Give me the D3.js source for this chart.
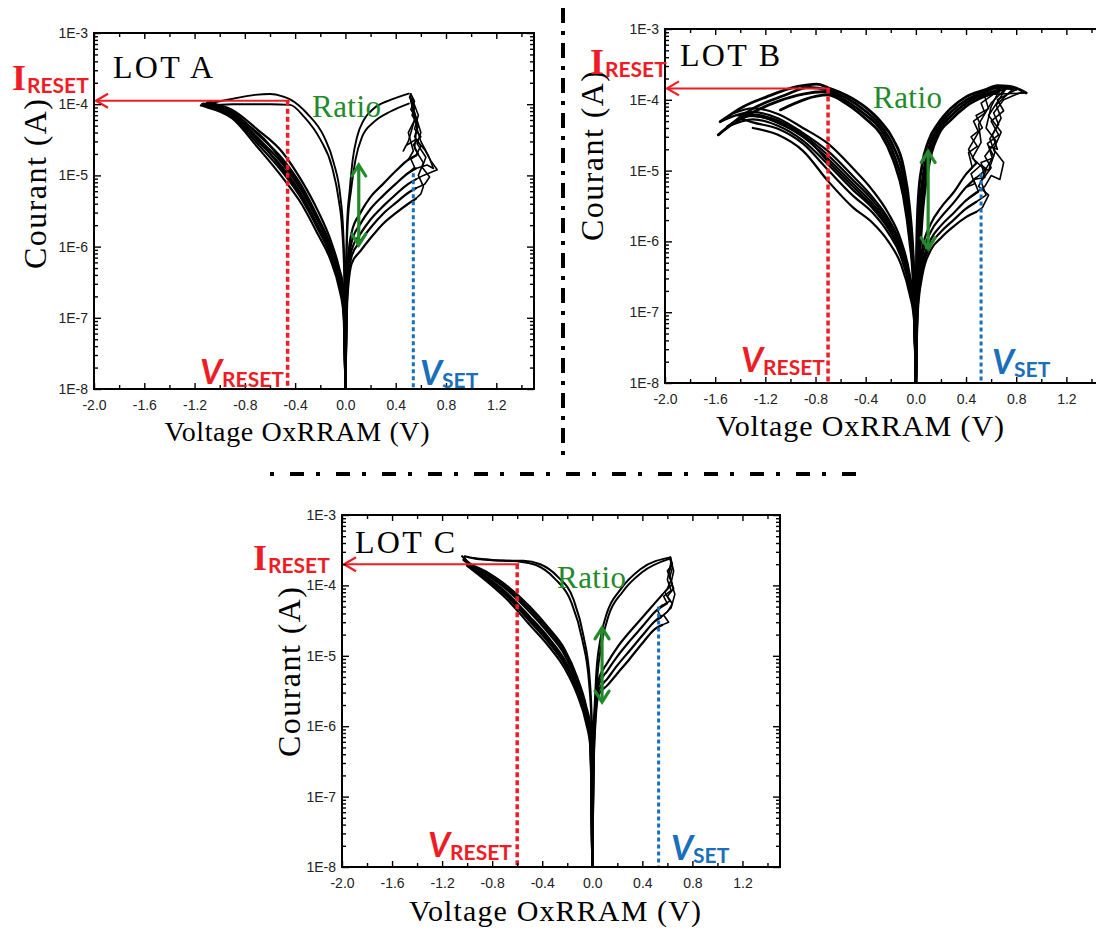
<!DOCTYPE html>
<html><head><meta charset="utf-8">
<script src="https://cdn.jsdelivr.net/npm/d3@7"></script>
<style>html,body{margin:0;padding:0;background:#fff;}svg{display:block;}</style>
</head><body>
<svg id="chart" width="1096" height="930"></svg>
<script>
// ================= DATA =================
const xTicks = [-2.0,-1.6,-1.2,-0.8,-0.4,0,0.4,0.8,1.2];
const xTickLabels = ["-2.0","-1.6","-1.2","-0.8","-0.4","0.0","0.4","0.8","1.2"];
const xMinorTicks = [-1.8,-1.4,-1.0,-0.6,-0.2,0.2,0.6,1.0,1.4];
const yTicks = [1e-8,1e-7,1e-6,1e-5,1e-4,1e-3];
const yTickLabels = ["1E-8","1E-7","1E-6","1E-5","1E-4","1E-3"];
const lotNames = ["LOT A","LOT B","LOT C"];
const xTitle = "Voltage OxRRAM (V)";
const yTitle = "Courant (A)";

// annotation values per lot (A, B, C)
const iReset   = [1.12e-4, 1.45e-4, 2.0e-4];
const vReset   = [-0.46, -0.70, -0.60];
const vSet     = [0.54, 0.52, 0.53];
const vSetTop  = [1.07e-5, 9.1e-6, 5.0e-5];
const ratioV   = [0.106, 0.098, 0.078];
const ratioHi  = [1.4e-5, 1.86e-5, 2.5e-5];
const ratioLo  = [1.05e-6, 7.9e-7, 2.2e-6];

// ---------- LOT A : [V, I] ----------
const lotA_lrs = [
 [[-1.13,1.0e-4],[-1.0,1.1e-4],[-0.89,1.2e-4],[-0.72,1.35e-4],[-0.60,1.39e-4],[-0.50,1.29e-4],[-0.44,1.17e-4],[-0.305,7.4e-5],[-0.17,3.5e-5],[-0.093,1.5e-5],[-0.04,5.0e-6],[-0.018,1.7e-6],[-0.008,5.2e-7],[-0.002,1e-7],[0,1e-8],[0.002,1.3e-7],[0.006,5.9e-7],[0.013,2.1e-6],[0.034,6.2e-6],[0.058,1.66e-5],[0.093,3.5e-5],[0.146,6.0e-5],[0.225,8.7e-5],[0.358,1.15e-4],[0.504,1.41e-4]],
 [[-1.12,9.5e-5],[-0.9,1.0e-4],[-0.6,1.0e-4],[-0.44,9.8e-5],[-0.33,6.7e-5],[-0.2,3.2e-5],[-0.106,1.3e-5],[-0.053,4.5e-6],[-0.026,1.7e-6],[-0.01,4e-7],[-0.002,6e-8],[0,1e-8],[0.002,5e-8],[0.005,2.5e-7],[0.018,2.1e-6],[0.045,6.2e-6],[0.08,1.66e-5],[0.133,3.5e-5],[0.225,5.6e-5],[0.358,7.9e-5],[0.504,1.02e-4]]
];
const lotA_hrsNeg = [
 [[-1.10,1.05e-4],[-0.9,8.3e-5],[-0.7,4.4e-5],[-0.5,2.1e-5],[-0.35,8.5e-6],[-0.22,3.2e-6],[-0.12,1.26e-6],[-0.05,5.0e-7],[-0.015,2.5e-7],[0,1e-8]],
 [[-1.14,1.0e-4],[-0.9,7.8e-5],[-0.7,3.8e-5],[-0.5,1.7e-5],[-0.35,7.2e-6],[-0.22,2.6e-6],[-0.12,1.07e-6],[-0.05,4.3e-7],[-0.015,2.0e-7],[0,1e-8]],
 [[-1.12,9.3e-5],[-0.9,7.3e-5],[-0.7,3.4e-5],[-0.5,1.45e-5],[-0.35,6.1e-6],[-0.22,2.3e-6],[-0.12,9.4e-7],[-0.05,3.75e-7],[-0.015,1.75e-7],[0,1e-8]],
 [[-1.08,1.1e-4],[-0.9,7.0e-5],[-0.7,3.1e-5],[-0.5,1.29e-5],[-0.35,5.4e-6],[-0.22,2.0e-6],[-0.12,8.6e-7],[-0.05,3.4e-7],[-0.015,1.55e-7],[0,1e-8]],
 [[-1.15,9.6e-5],[-0.9,6.7e-5],[-0.7,2.8e-5],[-0.5,1.11e-5],[-0.35,4.7e-6],[-0.22,1.78e-6],[-0.12,7.6e-7],[-0.05,3.0e-7],[-0.015,1.34e-7],[0,1e-8]],
 [[-1.10,9.0e-5],[-0.9,6.3e-5],[-0.7,2.5e-5],[-0.5,9.3e-6],[-0.35,4.0e-6],[-0.22,1.5e-6],[-0.12,6.6e-7],[-0.05,2.6e-7],[-0.015,1.12e-7],[0,1e-8]],
 [[-1.13,1.02e-4],[-0.95,8.5e-5],[-0.8,5.5e-5],[-0.65,3.3e-5],[-0.5,1.55e-5],[-0.35,6.6e-6],[-0.22,2.45e-6],[-0.12,1.0e-6],[-0.05,4.0e-7],[-0.015,1.9e-7],[0,1e-8]],
 [[-1.09,9.8e-5],[-0.95,8.0e-5],[-0.8,4.8e-5],[-0.65,2.6e-5],[-0.5,1.2e-5],[-0.35,5.0e-6],[-0.22,1.9e-6],[-0.12,8.0e-7],[-0.05,3.2e-7],[-0.015,1.45e-7],[0,1e-8]]
];
const lotA_hrsPos = [
 [[0,1e-8],[0.015,5.0e-7],[0.05,1.6e-6],[0.12,3.0e-6],[0.2,5.0e-6],[0.3,7.6e-6],[0.4,1.15e-5],[0.5,1.66e-5],[0.56,1.9e-5]],
 [[0,1e-8],[0.015,3.7e-7],[0.05,1.17e-6],[0.12,2.1e-6],[0.2,3.4e-6],[0.3,5.2e-6],[0.4,7.6e-6],[0.5,1.08e-5],[0.56,1.25e-5]],
 [[0,1e-8],[0.015,2.8e-7],[0.05,9.1e-7],[0.12,1.52e-6],[0.2,2.4e-6],[0.3,3.7e-6],[0.4,5.4e-6],[0.5,7.6e-6],[0.56,8.8e-6]],
 [[0,1e-8],[0.015,2.3e-7],[0.05,7.4e-7],[0.12,1.19e-6],[0.2,1.84e-6],[0.3,2.9e-6],[0.4,4.1e-6],[0.5,5.7e-6],[0.56,6.6e-6]],
 [[0,1e-8],[0.015,1.8e-7],[0.05,5.8e-7],[0.12,8.7e-7],[0.2,1.32e-6],[0.3,2.1e-6],[0.4,2.95e-6],[0.5,4.0e-6],[0.56,4.7e-6]]
];
const lotA_set = [
 [[0.56,1.9e-5],[0.60,2.6e-5],[0.55,3.5e-5],[0.58,5e-5],[0.53,7e-5],[0.55,9e-5],[0.51,1.25e-4],[0.52,1.4e-4]],
 [[0.56,1.25e-5],[0.65,1.4e-5],[0.70,1.25e-5],[0.66,1.9e-5],[0.60,3.0e-5],[0.57,4.5e-5],[0.54,8e-5],[0.52,1.3e-4]],
 [[0.56,8.8e-6],[0.62,1.0e-5],[0.73,1.2e-5],[0.68,1.6e-5],[0.63,2.3e-5],[0.56,3.2e-5],[0.48,2.6e-5],[0.46,2.2e-5],[0.50,3.0e-5],[0.55,6e-5],[0.52,1.2e-4]],
 [[0.56,6.6e-6],[0.63,7.5e-6],[0.67,9.5e-6],[0.61,1.3e-5],[0.64,1.8e-5],[0.57,2.8e-5],[0.60,4e-5],[0.53,1.0e-4]],
 [[0.56,4.7e-6],[0.60,5.5e-6],[0.62,7e-6],[0.58,1e-5],[0.62,1.5e-5],[0.55,2.4e-5],[0.57,5.5e-5],[0.52,1.1e-4]],
 [[0.50,1.66e-5],[0.54,2.2e-5],[0.50,4e-5],[0.56,6.5e-5],[0.52,8.5e-5],[0.55,1.1e-4],[0.52,1.4e-4]],
 [[0.50,1.08e-5],[0.55,1.3e-5],[0.52,1.7e-5],[0.58,2.0e-5],[0.54,2.7e-5],[0.60,3.5e-5],[0.55,4.5e-5],[0.58,7e-5],[0.53,1.2e-4]]
];

// ---------- LOT B ----------
const lotB_lrs = [
 [[-1.56,4.9e-5],[-1.376,8.0e-5],[-1.19,1.1e-4],[-0.95,1.53e-4],[-0.79,1.67e-4],[-0.7,1.48e-4],[-0.55,1.15e-4],[-0.4,7.8e-5],[-0.28,4.9e-5],[-0.18,2.75e-5],[-0.1,1.15e-5],[-0.05,3.0e-6],[-0.02,5.5e-7],[-0.006,1e-7],[0,1e-8],[0.006,7.9e-7],[0.02,4.2e-6],[0.05,1.2e-5],[0.1,2.6e-5],[0.18,4.7e-5],[0.28,7.6e-5],[0.4,1.1e-4],[0.55,1.38e-4],[0.65,1.58e-4],[0.75,1.55e-4],[0.88,1.25e-4]],
 [[-1.575,3.2e-5],[-1.3,7.5e-5],[-1.05,1.15e-4],[-0.85,1.5e-4],[-0.7,1.37e-4],[-0.55,1.05e-4],[-0.4,6.9e-5],[-0.28,4.3e-5],[-0.18,2.2e-5],[-0.1,8.3e-6],[-0.05,2.1e-6],[-0.02,4.2e-7],[-0.006,8.0e-8],[0,1e-8],[0.006,3.4e-7],[0.02,1.65e-6],[0.05,6.7e-6],[0.1,1.97e-5],[0.18,4.1e-5],[0.28,6.7e-5],[0.4,9.9e-5],[0.55,1.29e-4],[0.65,1.47e-4],[0.8,1.4e-4]],
 [[-1.5,4.2e-5],[-1.35,6.0e-5],[-1.1,9.5e-5],[-0.9,1.2e-4],[-0.75,1.3e-4],[-0.7,1.27e-4],[-0.55,9.5e-5],[-0.4,6.1e-5],[-0.28,3.8e-5],[-0.18,1.76e-5],[-0.1,6.0e-6],[-0.05,1.49e-6],[-0.02,3.25e-7],[-0.006,6.3e-8],[0,1e-8],[0.006,1.46e-7],[0.02,6.4e-7],[0.05,3.7e-6],[0.1,1.46e-5],[0.18,3.6e-5],[0.28,5.9e-5],[0.4,9.0e-5],[0.55,1.2e-4],[0.65,1.36e-4],[0.72,1.45e-4]],
 [[-1.08,7.2e-5],[-0.7,1.17e-4],[-0.55,8.7e-5],[-0.4,5.4e-5],[-0.28,3.3e-5],[-0.18,1.41e-5],[-0.1,4.4e-6],[-0.05,1.05e-6],[-0.02,2.5e-7],[-0.006,5.0e-8],[0,1e-8],[0.006,6.3e-8],[0.02,2.5e-7],[0.05,2.1e-6],[0.1,1.1e-5],[0.18,3.2e-5],[0.28,5.2e-5],[0.4,8.1e-5],[0.55,1.12e-4],[0.66,1.3e-4]]
];
const lotB_hrsNeg = [
 [[-1.45,6.5e-5],[-1.3,7.6e-5],[-1.1,6.3e-5],[-0.9,4.0e-5],[-0.7,2.4e-5],[-0.5,1.07e-5],[-0.35,5.4e-6],[-0.22,2.5e-6],[-0.12,1.05e-6],[-0.05,3.5e-7],[-0.015,1.26e-7],[0,1e-8]],
 [[-1.56,4.9e-5],[-1.3,6.7e-5],[-1.1,5.5e-5],[-0.9,3.4e-5],[-0.7,1.88e-5],[-0.5,8.3e-6],[-0.35,4.3e-6],[-0.22,2.1e-6],[-0.12,9.0e-7],[-0.05,3.1e-7],[-0.015,1.15e-7],[0,1e-8]],
 [[-1.575,3.2e-5],[-1.3,5.9e-5],[-1.1,4.8e-5],[-0.9,3.0e-5],[-0.7,1.47e-5],[-0.5,6.5e-6],[-0.35,3.5e-6],[-0.22,1.74e-6],[-0.12,7.7e-7],[-0.05,2.7e-7],[-0.015,1.05e-7],[0,1e-8]],
 [[-1.5,4.2e-5],[-1.3,5.3e-5],[-1.1,4.3e-5],[-0.9,2.65e-5],[-0.7,1.22e-5],[-0.5,5.3e-6],[-0.35,3.0e-6],[-0.22,1.51e-6],[-0.12,6.8e-7],[-0.05,2.4e-7],[-0.015,9.8e-8],[0,1e-8]],
 [[-1.4,5.5e-5],[-1.3,4.8e-5],[-1.1,3.9e-5],[-0.9,2.4e-5],[-0.7,1.02e-5],[-0.5,4.4e-6],[-0.35,2.6e-6],[-0.22,1.32e-6],[-0.12,6.1e-7],[-0.05,2.2e-7],[-0.015,9.1e-8],[0,1e-8]],
 [[-1.3,4.0e-5],[-1.1,3.2e-5],[-0.9,1.9e-5],[-0.7,7.1e-6],[-0.5,3.0e-6],[-0.35,1.86e-6],[-0.22,1.0e-6],[-0.12,4.8e-7],[-0.05,1.8e-7],[-0.015,7.9e-8],[0,1e-8]],
 [[-1.52,3.8e-5],[-1.3,6.2e-5],[-1.1,5.1e-5],[-0.9,3.2e-5],[-0.7,1.65e-5],[-0.5,7.3e-6],[-0.35,3.9e-6],[-0.22,1.9e-6],[-0.12,8.3e-7],[-0.05,2.9e-7],[-0.015,1.1e-7],[0,1e-8]],
 [[-1.42,6.0e-5],[-1.25,5.8e-5],[-1.05,4.3e-5],[-0.85,2.6e-5],[-0.7,1.35e-5],[-0.5,5.9e-6],[-0.35,3.2e-6],[-0.22,1.6e-6],[-0.12,7.2e-7],[-0.05,2.5e-7],[-0.015,1.0e-7],[0,1e-8]]
];
const lotB_hrsPos = [
 [[0,1e-8],[0.015,2.5e-7],[0.05,7.6e-7],[0.12,1.78e-6],[0.2,3.0e-6],[0.3,4.9e-6],[0.4,8.9e-6],[0.48,1.26e-5]],
 [[0,1e-8],[0.015,1.9e-7],[0.05,5.8e-7],[0.12,1.38e-6],[0.2,2.2e-6],[0.3,3.5e-6],[0.4,5.8e-6],[0.48,7.9e-6]],
 [[0,1e-8],[0.015,1.45e-7],[0.05,4.5e-7],[0.12,1.07e-6],[0.2,1.67e-6],[0.3,2.5e-6],[0.4,3.8e-6],[0.48,4.9e-6]],
 [[0,1e-8],[0.015,1.2e-7],[0.05,3.8e-7],[0.12,9.0e-7],[0.2,1.37e-6],[0.3,2.0e-6],[0.4,2.9e-6],[0.48,3.6e-6]],
 [[0,1e-8],[0.015,1.0e-7],[0.05,3.2e-7],[0.12,7.6e-7],[0.2,1.12e-6],[0.3,1.62e-6],[0.4,2.2e-6],[0.48,2.6e-6]]
];
const lotB_set = [
 [[0.48,1.26e-5],[0.42,2.0e-5],[0.50,3.5e-5],[0.46,5.0e-5],[0.55,6.5e-5],[0.52,9e-5],[0.62,1.2e-4],[0.88,1.25e-4]],
 [[0.48,7.9e-6],[0.55,1.0e-5],[0.62,1.6e-5],[0.57,2.4e-5],[0.66,3.2e-5],[0.60,5e-5],[0.70,7e-5],[0.65,1.0e-4],[0.80,1.4e-4]],
 [[0.48,4.9e-6],[0.55,6e-6],[0.60,8.5e-6],[0.67,7.5e-6],[0.70,1.3e-5],[0.62,2.0e-5],[0.68,3.5e-5],[0.58,6.0e-5],[0.72,1.45e-4]],
 [[0.48,3.6e-6],[0.56,4.5e-6],[0.52,7e-6],[0.60,1.1e-5],[0.55,1.6e-5],[0.64,2.6e-5],[0.56,4.0e-5],[0.60,8e-5],[0.66,1.3e-4]],
 [[0.48,2.6e-6],[0.53,3.0e-6],[0.58,4.5e-6],[0.50,6e-6],[0.56,1.0e-5],[0.45,1.5e-5],[0.52,2.5e-5],[0.50,4.5e-5],[0.60,9e-5],[0.70,1.35e-4]],
 [[0.40,8.9e-6],[0.45,1.1e-5],[0.42,1.8e-5],[0.49,2.2e-5],[0.44,3.0e-5],[0.53,4.0e-5],[0.48,6.0e-5],[0.58,7.5e-5],[0.55,1.1e-4],[0.75,1.5e-4]],
 [[0.40,5.8e-6],[0.47,6.5e-6],[0.44,9e-6],[0.52,1.2e-5],[0.58,1.0e-5],[0.63,1.8e-5],[0.59,2.8e-5],[0.66,4.5e-5],[0.62,6.5e-5],[0.70,1.0e-4],[0.85,1.3e-4]],
 [[0.40,3.8e-6],[0.50,5.0e-6],[0.46,7.5e-6],[0.55,8.0e-6],[0.52,1.3e-5],[0.61,1.5e-5],[0.58,2.2e-5],[0.65,2.0e-5],[0.61,3.2e-5],[0.68,5.5e-5],[0.64,8.5e-5],[0.78,1.45e-4]]
];

// ---------- LOT C ----------
const lotC_lrs = [
 [[-1.02,2.6e-4],[-0.9,2.35e-4],[-0.7,2.24e-4],[-0.55,2.24e-4],[-0.416,2.0e-4],[-0.28,1.35e-4],[-0.15,6.3e-5],[-0.07,1.9e-5],[-0.02,4.6e-6],[-0.003,9.8e-7],[0,1e-8],[0.003,5.0e-7],[0.016,1.51e-6],[0.032,5.6e-6],[0.064,1.7e-5],[0.118,4.1e-5],[0.224,8.7e-5],[0.384,1.7e-4],[0.624,2.5e-4]],
 [[-0.95,2.45e-4],[-0.8,2.3e-4],[-0.6,2.2e-4],[-0.45,1.95e-4],[-0.3,1.25e-4],[-0.17,5.9e-5],[-0.08,1.7e-5],[-0.025,4.0e-6],[-0.004,8e-7],[0,1e-8],[0.004,4e-7],[0.02,1.3e-6],[0.04,5e-6],[0.075,1.5e-5],[0.13,3.7e-5],[0.24,8e-5],[0.4,1.55e-4],[0.62,2.4e-4]]
];
const lotC_hrsNeg = [
 [[-1.04,2.6e-4],[-1.0,2.2e-4],[-0.85,1.58e-4],[-0.68,9.8e-5],[-0.5,5.0e-5],[-0.35,2.5e-5],[-0.22,1.23e-5],[-0.12,4.9e-6],[-0.05,1.95e-6],[-0.015,9.5e-7],[0,1e-8]],
 [[-1.03,2.3e-4],[-1.0,2.1e-4],[-0.85,1.45e-4],[-0.68,8.6e-5],[-0.5,4.2e-5],[-0.35,2.1e-5],[-0.22,1.02e-5],[-0.12,4.1e-6],[-0.05,1.65e-6],[-0.015,7.9e-7],[0,1e-8]],
 [[-1.0,2.0e-4],[-0.85,1.34e-4],[-0.68,7.7e-5],[-0.5,3.6e-5],[-0.35,1.81e-5],[-0.22,8.7e-6],[-0.12,3.6e-6],[-0.05,1.44e-6],[-0.015,6.7e-7],[0,1e-8]],
 [[-1.0,1.96e-4],[-0.85,1.25e-4],[-0.68,6.9e-5],[-0.5,3.1e-5],[-0.35,1.56e-5],[-0.22,7.5e-6],[-0.12,3.15e-6],[-0.05,1.25e-6],[-0.015,5.7e-7],[0,1e-8]],
 [[-1.0,1.9e-4],[-0.85,1.17e-4],[-0.68,6.3e-5],[-0.5,2.75e-5],[-0.35,1.38e-5],[-0.22,6.6e-6],[-0.12,2.8e-6],[-0.05,1.12e-6],[-0.015,5.0e-7],[0,1e-8]],
 [[-1.02,2.45e-4],[-1.0,2.15e-4],[-0.85,1.5e-4],[-0.68,9.1e-5],[-0.5,4.6e-5],[-0.35,2.3e-5],[-0.22,1.12e-5],[-0.12,4.5e-6],[-0.05,1.8e-6],[-0.015,8.6e-7],[0,1e-8]],
 [[-0.99,2.1e-4],[-0.85,1.3e-4],[-0.68,7.3e-5],[-0.5,3.35e-5],[-0.35,1.68e-5],[-0.22,8.1e-6],[-0.12,3.4e-6],[-0.05,1.35e-6],[-0.015,6.2e-7],[0,1e-8]]
];
const lotC_hrsPos = [
 [[0,1e-8],[0.015,1.12e-6],[0.05,4.5e-6],[0.12,7.9e-6],[0.2,1.32e-5],[0.3,2.2e-5],[0.4,3.5e-5],[0.5,5.6e-5],[0.56,7.4e-5]],
 [[0,1e-8],[0.015,8.5e-7],[0.05,3.8e-6],[0.12,6.1e-6],[0.2,9.8e-6],[0.3,1.63e-5],[0.4,2.6e-5],[0.5,4.2e-5],[0.56,5.2e-5]],
 [[0,1e-8],[0.015,6.3e-7],[0.05,3.2e-6],[0.12,4.7e-6],[0.2,7.3e-6],[0.3,1.19e-5],[0.4,1.94e-5],[0.5,3.1e-5],[0.56,3.7e-5]],
 [[0,1e-8],[0.015,5.0e-7],[0.05,2.8e-6],[0.12,3.8e-6],[0.2,5.6e-6],[0.3,9.1e-6],[0.4,1.51e-5],[0.5,2.4e-5],[0.56,2.75e-5]]
];
const lotC_set = [
 [[0.56,7.4e-5],[0.60,9e-5],[0.63,1.2e-4],[0.60,1.6e-4],[0.64,2.0e-4],[0.624,2.5e-4]],
 [[0.56,5.2e-5],[0.62,6e-5],[0.58,8e-5],[0.64,1.05e-4],[0.61,1.4e-4],[0.63,1.9e-4],[0.624,2.5e-4]],
 [[0.56,3.7e-5],[0.60,4.2e-5],[0.64,5.5e-5],[0.60,7e-5],[0.65,9e-5],[0.62,1.3e-4],[0.64,1.8e-4],[0.62,2.4e-4]],
 [[0.56,2.75e-5],[0.61,3.0e-5],[0.57,3.8e-5],[0.63,4.8e-5],[0.66,7.5e-5],[0.63,1.1e-4],[0.65,1.6e-4],[0.624,2.5e-4]],
 [[0.50,3.1e-5],[0.55,3.5e-5],[0.52,4.5e-5],[0.60,5.5e-5],[0.57,7e-5],[0.63,8.5e-5],[0.60,1.2e-4],[0.63,2.2e-4]]
];

// ================= LAYOUT (positions / styles only) =================
const layouts = [
 {x0:94,  y0:33,  w:440, h:356, lot:[113,78],  iR:[12,90],   vR:[200,384], vS:[420,385], ratio:[312,117], yLab:[46,184],  xLab:[297,441], xLen:265, xFs:28, lrsW:1.9},
 {x0:665, y0:29,  w:439, h:354, lot:[680,66],  iR:[590,74],  vR:[741,372], vS:[992,374], ratio:[873,108], yLab:[603,156], xLab:[860,436], xLen:288, xFs:30, lrsW:2.8},
 {x0:342, y0:515, w:438, h:352, lot:[355,553], iR:[253,570], vR:[428,857], vS:[671,860], ratio:[557,588], yLab:[300,672], xLab:[555,921], xLen:292, xFs:30, lrsW:2.0}
];
const curveSets = [
 {lrs:lotA_lrs, neg:lotA_hrsNeg, pos:lotA_hrsPos, set:lotA_set},
 {lrs:lotB_lrs, neg:lotB_hrsNeg, pos:lotB_hrsPos, set:lotB_set},
 {lrs:lotC_lrs, neg:lotC_hrsNeg, pos:lotC_hrsPos, set:lotC_set}
];
const RED="#ee1c25", BLUE="#1a6fba", GREEN="#238a2b";

const svg = d3.select("#chart");
const defs = svg.append("defs");

layouts.forEach((L,i) => {
  const C = curveSets[i];
  const x = d3.scaleLinear().domain([-2.0,1.5]).range([L.x0, L.x0+L.w]);
  const y = d3.scaleLog().domain([1e-8,1e-3]).range([L.y0+L.h, L.y0]);
  const cid = "clip"+i;
  defs.append("clipPath").attr("id",cid).append("rect")
    .attr("x",L.x0).attr("y",L.y0).attr("width",L.w).attr("height",L.h);
  const g = svg.append("g");

  const smooth = d3.line().x(d=>x(d[0])).y(d=>y(d[1])).curve(d3.curveMonotoneX);
  const jag = d3.line().x(d=>x(d[0])).y(d=>y(d[1]));
  const cg = g.append("g").attr("clip-path",`url(#${cid})`)
    .attr("fill","none").attr("stroke","#000").attr("stroke-width",2.2)
    .attr("stroke-linejoin","round").attr("stroke-linecap","round");
  C.neg.forEach(c => cg.append("path").attr("d", smooth(c)));
  C.pos.forEach(c => cg.append("path").attr("d", smooth(c)));
  C.lrs.forEach(c => cg.append("path").attr("d", smooth(c)).attr("stroke-width",L.lrsW));
  C.set.forEach(c => cg.append("path").attr("d", jag(c)).attr("stroke-width",1.6));

  // V_RESET / V_SET dotted lines
  g.append("line").attr("x1",x(vReset[i])).attr("x2",x(vReset[i]))
    .attr("y1",y(iReset[i])).attr("y2",L.y0+L.h-1)
    .attr("stroke",RED).attr("stroke-width",3.5).attr("stroke-dasharray","5,3");
  g.append("line").attr("x1",x(vSet[i])).attr("x2",x(vSet[i]))
    .attr("y1",y(vSetTop[i])).attr("y2",L.y0+L.h-1)
    .attr("stroke",BLUE).attr("stroke-width",3).attr("stroke-dasharray","4,3");

  // I_RESET arrow
  const ay = y(iReset[i]), ax0 = L.x0+2, ax1 = x(vReset[i])+2;
  g.append("line").attr("x1",ax0).attr("x2",ax1).attr("y1",ay).attr("y2",ay)
    .attr("stroke",RED).attr("stroke-width",2);
  g.append("path").attr("d",`M${ax0+12},${ay-7}L${ax0},${ay}L${ax0+12},${ay+7}`)
    .attr("fill","none").attr("stroke",RED).attr("stroke-width",2.2);

  // Ratio arrow
  const rx = x(ratioV[i]), rt = y(ratioHi[i]), rb = y(ratioLo[i]);
  g.append("line").attr("x1",rx).attr("x2",rx).attr("y1",rt+1).attr("y2",rb-1)
    .attr("stroke",GREEN).attr("stroke-width",3.2);
  g.append("path").attr("d",`M${rx-7},${rt+11}L${rx},${rt}L${rx+7},${rt+11}M${rx-7},${rb-11}L${rx},${rb}L${rx+7},${rb-11}`)
    .attr("fill","none").attr("stroke",GREEN).attr("stroke-width",3.2).attr("stroke-linecap","round");

  // Axes
  const yMinor = [];
  yTicks.slice(0,5).forEach(d => { for (let k=2;k<=9;k++) yMinor.push(d*k); });
  const styleAx = sel => { sel.select(".domain").remove(); sel.selectAll("line").attr("stroke","#000").attr("stroke-width",1.4); };
  g.append("g").attr("transform",`translate(0,${L.y0+L.h})`)
    .call(d3.axisBottom(x).tickValues(xTicks).tickFormat((d,j)=>xTickLabels[j]).tickSize(-6).tickPadding(11))
    .call(styleAx);
  g.append("g").attr("transform",`translate(0,${L.y0+L.h})`)
    .call(d3.axisBottom(x).tickValues(xMinorTicks).tickFormat("").tickSize(-4)).call(styleAx);
  g.append("g").attr("transform",`translate(0,${L.y0})`)
    .call(d3.axisTop(x).tickValues(xTicks).tickFormat("").tickSize(-6)).call(styleAx);
  g.append("g").attr("transform",`translate(0,${L.y0})`)
    .call(d3.axisTop(x).tickValues(xMinorTicks).tickFormat("").tickSize(-4)).call(styleAx);
  g.append("g").attr("transform",`translate(${L.x0},0)`)
    .call(d3.axisLeft(y).tickValues(yTicks).tickFormat((d,j)=>yTickLabels[j]).tickSize(-7).tickPadding(6))
    .call(styleAx);
  g.append("g").attr("transform",`translate(${L.x0},0)`)
    .call(d3.axisLeft(y).tickValues(yMinor).tickFormat("").tickSize(-4)).call(styleAx);
  g.append("g").attr("transform",`translate(${L.x0+L.w},0)`)
    .call(d3.axisRight(y).tickValues(yTicks).tickFormat("").tickSize(-7)).call(styleAx);
  g.append("g").attr("transform",`translate(${L.x0+L.w},0)`)
    .call(d3.axisRight(y).tickValues(yMinor).tickFormat("").tickSize(-4)).call(styleAx);
  g.selectAll(".tick text").attr("font-family","Liberation Sans, Arial, sans-serif")
    .attr("font-size",14).attr("fill","#222");
  g.append("rect").attr("x",L.x0).attr("y",L.y0).attr("width",L.w).attr("height",L.h)
    .attr("fill","none").attr("stroke","#000").attr("stroke-width",2);

  // Titles
  g.append("text").attr("x",L.xLab[0]).attr("y",L.xLab[1]).attr("text-anchor","middle")
    .attr("font-family","Liberation Serif, serif").attr("font-size",L.xFs)
    .attr("textLength",L.xLen).attr("lengthAdjust","spacing").text(xTitle);
  g.append("text").attr("transform",`translate(${L.yLab[0]},${L.yLab[1]}) rotate(-90)`)
    .attr("text-anchor","middle").attr("font-family","Liberation Serif, serif").attr("font-size",32)
    .attr("textLength",170).attr("lengthAdjust","spacing").text(yTitle);
  g.append("text").attr("x",L.lot[0]).attr("y",L.lot[1])
    .attr("font-family","Liberation Serif, serif").attr("font-size",32)
    .attr("textLength",100).attr("lengthAdjust","spacing").text(lotNames[i]);
  g.append("text").attr("x",L.ratio[0]).attr("y",L.ratio[1]).attr("fill",GREEN)
    .attr("font-family","Liberation Serif, serif").attr("font-size",31)
    .attr("textLength",69).attr("lengthAdjust","spacing").text("Ratio");

  // I_RESET label
  const t1 = g.append("text").attr("x",L.iR[0]).attr("y",L.iR[1]).attr("fill",RED);
  t1.append("tspan").text("I").attr("font-family","Liberation Serif, serif").attr("font-weight","bold").attr("font-size",36);
  t1.append("tspan").text("RESET").attr("font-family","Lato, sans-serif").attr("font-weight","bold").attr("font-size",21).attr("dy",3).attr("dx",1);
  // V_RESET label
  const t2 = g.append("text").attr("x",L.vR[0]).attr("y",L.vR[1]).attr("fill",RED);
  t2.append("tspan").text("V").attr("font-family","Lato, sans-serif").attr("font-weight","bold").attr("font-style","italic").attr("font-size",34);
  t2.append("tspan").text("RESET").attr("font-family","Lato, sans-serif").attr("font-weight","bold").attr("font-size",21).attr("dy",3);
  // V_SET label
  const t3 = g.append("text").attr("x",L.vS[0]).attr("y",L.vS[1]).attr("fill",BLUE);
  t3.append("tspan").text("V").attr("font-family","Lato, sans-serif").attr("font-weight","bold").attr("font-style","italic").attr("font-size",34);
  t3.append("tspan").text("SET").attr("font-family","Lato, sans-serif").attr("font-weight","bold").attr("font-size",21).attr("dy",3);
});

// Dash-dot separators
svg.append("line").attr("x1",563).attr("x2",563).attr("y1",8).attr("y2",463)
  .attr("stroke","#000").attr("stroke-width",4).attr("stroke-dasharray","15,8,4,8");
svg.append("line").attr("x1",270).attr("x2",860).attr("y1",474).attr("y2",474)
  .attr("stroke","#000").attr("stroke-width",4).attr("stroke-dasharray","4,16,14,12");
</script>
</body></html>
